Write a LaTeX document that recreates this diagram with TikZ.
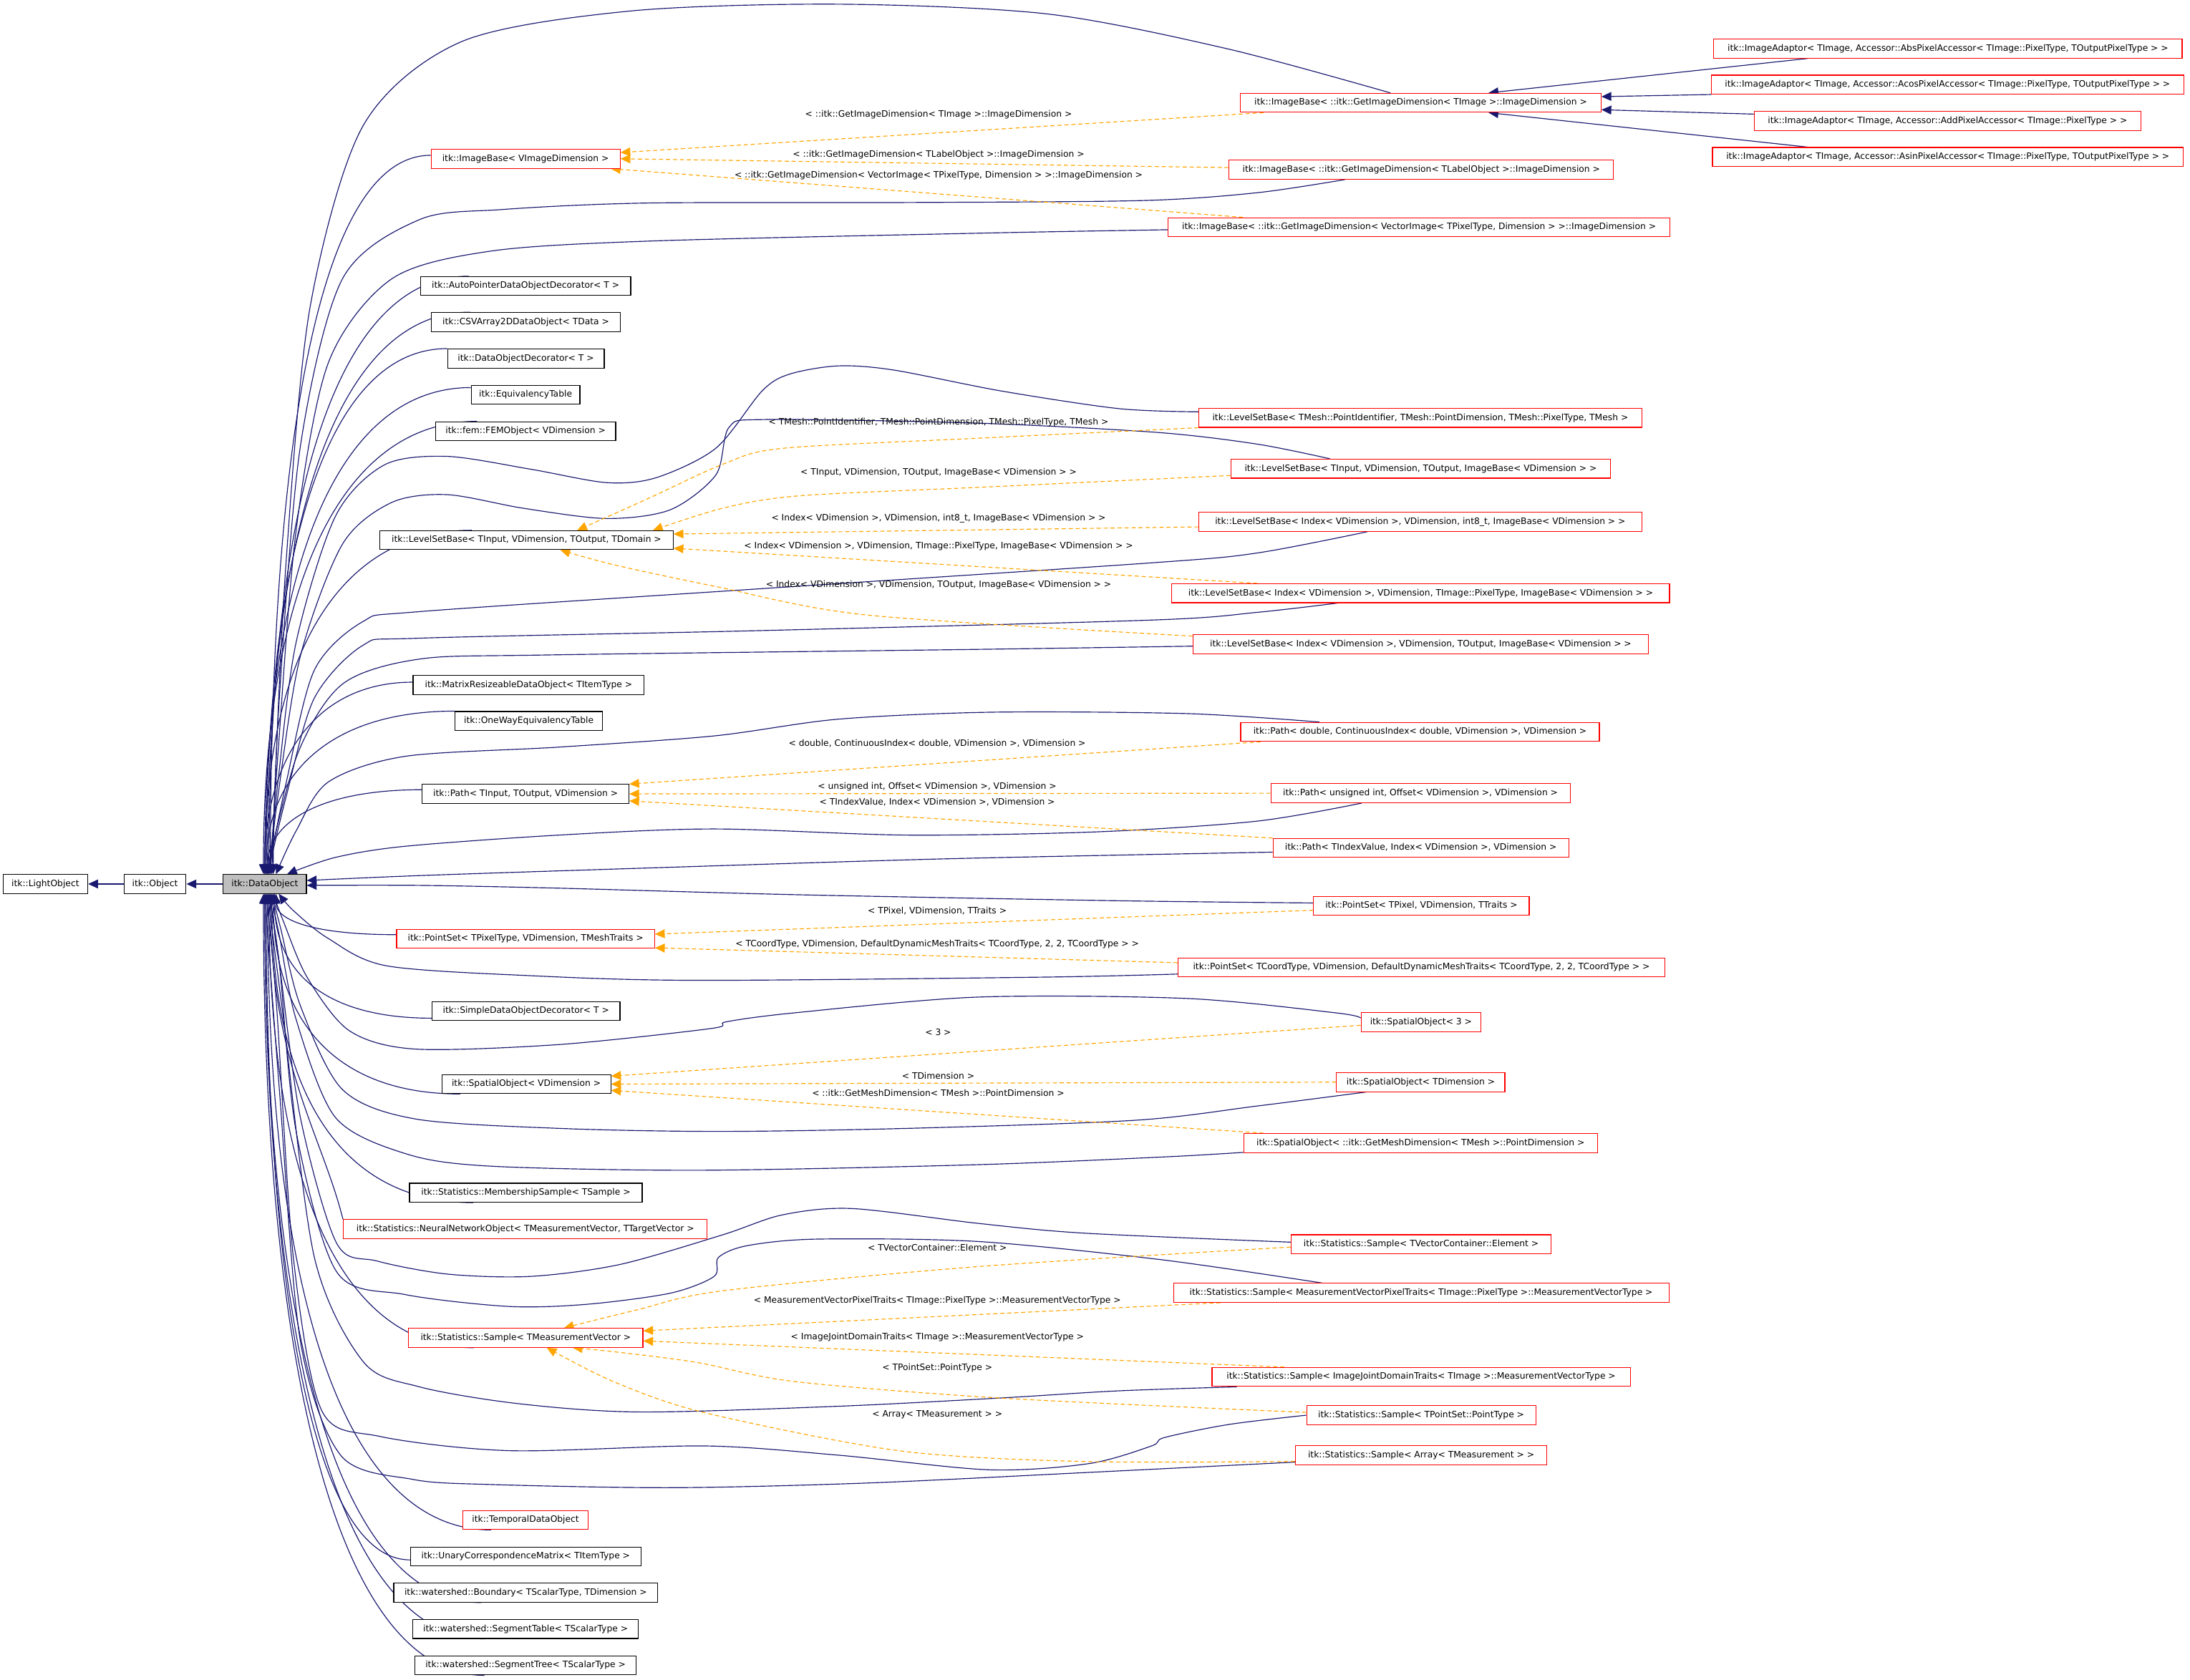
\documentclass[tikz,border=0pt]{standalone}
\usepackage{fontspec}
\setmainfont{DejaVu Sans}
\usetikzlibrary{arrows.meta,backgrounds}
\definecolor{navy}{RGB}{25,25,112}
\definecolor{orng}{RGB}{255,165,0}
\definecolor{redb}{RGB}{255,0,0}
\definecolor{dogray}{RGB}{191,191,191}
\tikzset{
 box/.style={draw=black, line width=0.55pt, rectangle, fill=white, inner xsep=3pt, inner ysep=0pt, minimum height=13.6pt, font=\fontsize{6.3}{7}\selectfont, text height=4.8pt, text depth=1.4pt},
 rbox/.style={box, draw=redb},
 lbl/.style={inner sep=0pt, font=\fontsize{6.3}{7}\selectfont},
 inh/.style={draw=navy, line width=0.6pt, -{Triangle[length=7pt,width=6.3pt]}},
 tpl/.style={draw=orng, line width=0.6pt, dash pattern=on 3pt off 2pt, -{Triangle[length=7pt,width=6.3pt]}},
 sm/.style={smooth, tension=0.5},
}
\begin{document}
\begin{tikzpicture}[x=1pt,y=-1pt]
\useasboundingbox (0,0) rectangle (1568,1203);
% ---- left chain
\node[box, minimum width=60.7pt] (LO) at (32.5,633) {itk::LightObject};
\node[box, minimum width=44.5pt] (OB) at (111,633) {itk::Object};
\node[box, fill=dogray, minimum width=59.6pt] (DO) at (189.6,633) {itk::DataObject};
% ---- column nodes
\node[rbox, minimum width=135.4pt] (IBV) at (376.3,113.7) {itk::ImageBase< VImageDimension >};
\node[box, minimum width=150.6pt] (AP) at (376.3,204.85) {itk::AutoPointerDataObjectDecorator< T >};
\node[box, minimum width=135pt] (CSV) at (376.5,230.6) {itk::CSVArray2DDataObject< TData >};
\node[box, minimum width=112.2pt] (DOD) at (376.5,256.7) {itk::DataObjectDecorator< T >};
\node[box, minimum width=77.8pt] (ET) at (376.3,282.6) {itk::EquivalencyTable};
\node[box, minimum width=129pt] (FEM) at (376.3,308.8) {itk::fem::FEMObject< VDimension >};
\node[box, minimum width=210pt] (LSBT) at (377,386.8) {itk::LevelSetBase< TInput, VDimension, TOutput, TDomain >};
\node[box, minimum width=165.5pt] (MR) at (378.5,490.5) {itk::MatrixResizeableDataObject< TItemType >};
\node[box, minimum width=105.6pt] (OW) at (378.6,516.3) {itk::OneWayEquivalencyTable};
\node[box, minimum width=148pt] (PathT) at (376.3,568.5) {itk::Path< TInput, TOutput, VDimension >};
\node[rbox, minimum width=184.7pt] (PST) at (376.3,672.3) {itk::PointSet< TPixelType, VDimension, TMeshTraits >};
\node[box, minimum width=134.6pt] (SD) at (376.6,724.1) {itk::SimpleDataObjectDecorator< T >};
\node[box, minimum width=121pt] (SOT) at (376.8,776.3) {itk::SpatialObject< VDimension >};
\node[box, minimum width=166.6pt] (MS) at (376.5,854.1) {itk::Statistics::MembershipSample< TSample >};
\node[rbox, minimum width=260.6pt] (NN) at (376.1,880.1) {itk::Statistics::NeuralNetworkObject< TMeasurementVector, TTargetVector >};
\node[rbox, minimum width=167.8pt] (ST) at (376.4,958) {itk::Statistics::Sample< TMeasurementVector >};
\node[rbox, minimum width=89.7pt] (TDO) at (376.3,1088.5) {itk::TemporalDataObject};
\node[box, minimum width=165pt] (UCM) at (376.4,1114.5) {itk::UnaryCorrespondenceMatrix< TItemType >};
\node[box, minimum width=189pt] (WB) at (376.4,1140.5) {itk::watershed::Boundary< TScalarType, TDimension >};
\node[box, minimum width=161.5pt] (WST) at (376.3,1166.5) {itk::watershed::SegmentTable< TScalarType >};
\node[box, minimum width=158.5pt] (WSTr) at (376.3,1192.6) {itk::watershed::SegmentTree< TScalarType >};
% ---- right nodes
\node[rbox, minimum width=258.3pt] (IBT) at (1017.2,73.6) {itk::ImageBase< ::itk::GetImageDimension< TImage >::ImageDimension >};
\node[rbox, minimum width=335.3pt] (IAA) at (1394.7,34.8) {itk::ImageAdaptor< TImage, Accessor::AbsPixelAccessor< TImage::PixelType, TOutputPixelType > >};
\node[rbox, minimum width=338pt] (IAC) at (1394.4,60.6) {itk::ImageAdaptor< TImage, Accessor::AcosPixelAccessor< TImage::PixelType, TOutputPixelType > >};
\node[rbox, minimum width=276.8pt] (IAD) at (1394.4,86.7) {itk::ImageAdaptor< TImage, Accessor::AddPixelAccessor< TImage::PixelType > >};
\node[rbox, minimum width=337pt] (IAS) at (1394.6,112.4) {itk::ImageAdaptor< TImage, Accessor::AsinPixelAccessor< TImage::PixelType, TOutputPixelType > >};
\node[rbox, minimum width=275.2pt] (IBL) at (1017.6,121.5) {itk::ImageBase< ::itk::GetImageDimension< TLabelObject >::ImageDimension >};
\node[rbox, minimum width=359.5pt] (IBVec) at (1016,162.7) {itk::ImageBase< ::itk::GetImageDimension< VectorImage< TPixelType, Dimension > >::ImageDimension >};
\node[rbox, minimum width=317pt] (LSBM) at (1016.9,299.2) {itk::LevelSetBase< TMesh::PointIdentifier, TMesh::PointDimension, TMesh::PixelType, TMesh >};
\node[rbox, minimum width=272pt] (LSBI) at (1017.2,335.6) {itk::LevelSetBase< TInput, VDimension, TOutput, ImageBase< VDimension > >};
\node[rbox, minimum width=317pt] (LSB8) at (1016.9,373.7) {itk::LevelSetBase< Index< VDimension >, VDimension, int8\_t, ImageBase< VDimension > >};
\node[rbox, minimum width=356.3pt] (LSBP) at (1017.2,424.8) {itk::LevelSetBase< Index< VDimension >, VDimension, TImage::PixelType, ImageBase< VDimension > >};
\node[rbox, minimum width=326pt] (LSBO) at (1017.2,461.2) {itk::LevelSetBase< Index< VDimension >, VDimension, TOutput, ImageBase< VDimension > >};
\node[rbox, minimum width=256.8pt] (PathD) at (1016.7,524.1) {itk::Path< double, ContinuousIndex< double, VDimension >, VDimension >};
\node[rbox, minimum width=214.3pt] (PathU) at (1017,568) {itk::Path< unsigned int, Offset< VDimension >, VDimension >};
\node[rbox, minimum width=211.6pt] (PathI) at (1017.3,607.2) {itk::Path< TIndexValue, Index< VDimension >, VDimension >};
\node[rbox, minimum width=154.3pt] (PSP) at (1017.7,648.6) {itk::PointSet< TPixel, VDimension, TTraits >};
\node[rbox, minimum width=348.4pt] (PSC) at (1017.7,692.8) {itk::PointSet< TCoordType, VDimension, DefaultDynamicMeshTraits< TCoordType, 2, 2, TCoordType > >};
\node[rbox, minimum width=85.8pt] (SO3) at (1017.4,732) {itk::SpatialObject< 3 >};
\node[rbox, minimum width=120.5pt] (SOD) at (1017.2,774.9) {itk::SpatialObject< TDimension >};
\node[rbox, minimum width=253.4pt] (SOM) at (1017.1,818.5) {itk::SpatialObject< ::itk::GetMeshDimension< TMesh >::PointDimension >};
\node[rbox, minimum width=186.3pt] (SVC) at (1017.5,891) {itk::Statistics::Sample< TVectorContainer::Element >};
\node[rbox, minimum width=354.7pt] (SMV) at (1017.5,925.8) {itk::Statistics::Sample< MeasurementVectorPixelTraits< TImage::PixelType >::MeasurementVectorType >};
\node[rbox, minimum width=299.4pt] (SIJ) at (1017.5,986) {itk::Statistics::Sample< ImageJointDomainTraits< TImage >::MeasurementVectorType >};
\node[rbox, minimum width=164pt] (STP) at (1017.5,1013.4) {itk::Statistics::Sample< TPointSet::PointType >};
\node[rbox, minimum width=180.1pt] (SAR) at (1017.5,1042) {itk::Statistics::Sample< Array< TMeasurement > >};

\begin{pgfonlayer}{background}
% ---- base chain
\draw[inh] (OB.west) -- (LO.east);
\draw[inh] (DO.west) -- (OB.east);
% ---- column nodes above DataObject
\draw[inh] ([yshift=2.5pt]IBV.west) .. controls +(-80,0) and +(0,-309) .. ([xshift=4pt]DO.north);
\draw[inh] ([xshift=35pt]AP.north west) .. controls +(-99,0) and +(0,-257) .. ([xshift=3pt]DO.north);
\draw[inh] ([xshift=28pt]CSV.north west) .. controls +(-99,0) and +(0,-241) .. ([xshift=2pt]DO.north);
\draw[inh] (DOD.north west) .. controls +(-88,0) and +(0,-226) .. ([xshift=1pt]DO.north);
\draw[inh] ([yshift=-2pt]ET.north west) .. controls +(-100,0) and +(0,-209) .. (DO.north);
\draw[inh] ([xshift=30pt]FEM.north west) .. controls +(-103,0) and +(0,-194) .. ([xshift=-1pt]DO.north);
\draw[inh] ([xshift=66pt]LSBT.north west) .. controls +(-100,0) and +(0,-148) .. (DO.north);
\draw[inh] ([yshift=2pt]MR.west) .. controls +(-70,0) and +(0,-82) .. (DO.north);
\draw[inh] (OW.north west) .. controls +(-91,0) and +(0,-70) .. ([xshift=1pt]DO.north);
\draw[inh] ([yshift=3pt]PathT.west) .. controls +(-75,0) and +(0,-36) .. ([xshift=2pt]DO.north);
% ---- column nodes below DataObject
\draw[inh] ([yshift=3pt]PST.west) .. controls +(-62,0) and +(0,18) .. ([xshift=8pt]DO.south);
\draw[inh] ([yshift=-5pt]SD.west) .. controls +(-80,0) and +(0,53) .. ([xshift=7pt]DO.south);
\draw[inh] ([xshift=13.5pt]SOT.south west) .. controls +(-94,0) and +(0,86) .. ([xshift=6pt]DO.south);
\draw[inh] ([xshift=46pt]MS.south west) .. controls +(-101,0) and +(0,133) .. ([xshift=5pt]DO.south);
\draw[inh] (NN.north west) .. controls +(-15,-60) and +(0,120) .. ([xshift=4pt]DO.south);
\draw[inh] ([xshift=47pt]ST.south west) .. controls +(-101,0) and +(0,195) .. ([xshift=3pt]DO.south);
\draw[inh] ([xshift=20.5pt]TDO.south west) .. controls +(-110,0) and +(0,273) .. ([xshift=2pt]DO.south);
\draw[inh] ([yshift=-2.5pt]UCM.west) .. controls +(-69,0) and +(0,287) .. ([xshift=1pt]DO.south);
\draw[inh] ([xshift=63pt]WB.south west) .. controls +(-105,0) and +(0,304) .. (DO.south);
\draw[inh] ([xshift=52pt]WST.south west) .. controls +(-107,0) and +(0,320) .. (DO.south);
\draw[inh] ([xshift=50pt]WSTr.south west) .. controls +(-106,0) and +(0,336) .. ([xshift=-1pt]DO.south);
% ---- right nodes to DataObject
\draw[inh] plot[sm] coordinates {([xshift=-21.7pt]IBT.north) (879,35) (750,10) (600,3) (450,8) (330,30) (260,90) (222,220) (205,400) (197,560) ([xshift=6pt]DO.north)};
\draw[inh] plot[sm] coordinates {([xshift=-54.6pt]IBL.south) (900,138) (818,143.6) (650,145) (463,145.4) (360,150) (300,157.4) (245,200) (215,320) (200,500) ([xshift=5pt]DO.north)};
\draw[inh] plot[sm] coordinates {([yshift=-1.8pt]IBVec.west) (700,167) (463,172.7) (350,180) (280,200) (235,260) (212,380) (199,540) ([xshift=4pt]DO.north)};
\draw[inh] plot[sm] coordinates {([yshift=4.3pt]LSBM.west) (801,292.6) (717,280) (640,265) (600,262) (565,268) (545.6,280) (512.6,320.9) (470,342) (434.3,345.6) (380,336) (320,326.8) (275,333) (240,370) (212,460) (199,560) ([xshift=3pt]DO.north)};
\draw[inh] plot[sm] coordinates {([xshift=-65pt]LSBI.north) (900,318) (828,309.6) (700,303) (548.5,300.4) (522,306) (512.6,340) (480,365) (434.3,371.3) (375,364) (320,354.2) (280,360) (245,390) (215,470) (199,570) ([xshift=3pt]DO.north)};
\draw[inh] plot[sm] coordinates {([xshift=-38pt]LSB8.south) (900,396) (825,403) (542.6,421.7) (300,438) (260,445) (225,480) (205,560) ([xshift=2pt]DO.north)};
\draw[inh] plot[sm] coordinates {([xshift=-59.6pt]LSBP.south) (900,438.5) (825,444) (542.6,451.6) (300,457) (260,462) (225,500) (205,570) ([xshift=2pt]DO.north)};
\draw[inh] plot[sm] coordinates {([yshift=-1.5pt]LSBO.west) (700,465) (392,469) (300,472) (245,490) (213,540) ([xshift=1pt]DO.north)};
\draw[inh] plot[sm] coordinates {([xshift=-72pt]PathD.north) (850,511) (710,510) (600,515) (511,527) (400,535) (290,541.6) (235,560) (212,595) ([xshift=8pt]DO.north)};
\draw[inh] plot[sm] coordinates {([xshift=-42pt]PathU.south) (900,588) (787,595.6) (650,598) (511,593.6) (400,598) (290,606) (240,614) ([xshift=16pt]DO.north)};
\draw[inh] plot[sm] coordinates {([yshift=-3pt]PathI.west) (676.6,615) (450,622) (300,627) ([yshift=2.5pt]DO.east)};
\draw[inh] plot[sm] coordinates {([yshift=2pt]PSP.west) (800,645) (571,640.7) (400,636) (300,634) ([yshift=-1pt]DO.east)};
\draw[inh] plot[sm] coordinates {([yshift=-4.7pt]PSC.west) (747,699.7) (500,702) (382.7,698.8) (276.8,691.6) (235,672) (210,652) ([xshift=10pt]DO.south)};
\draw[inh] plot[sm] coordinates {([yshift=3pt]SO3.west) (956.5,725.3) (850,715) (700,714) (568.6,725.3) (520,731.7) (509,736.5) (400,748) (297,751.2) (250,738) (220,700) (203,660) ([xshift=6pt]DO.south)};
\draw[inh] plot[sm] coordinates {([xshift=-39pt]SOD.south) (900,792) (812.8,802.2) (650,808) (514.4,810.2) (400,808) (297,801.2) (245,780) (215,720) (201,665) ([xshift=5pt]DO.south)};
\draw[inh] plot[sm] coordinates {([yshift=-6.7pt]SOM.west) (834.5,828.4) (700,834) (500,838) (350,835) (290,826) (240,800) (212,730) (200,670) ([xshift=4pt]DO.south)};
\draw[inh] plot[sm] coordinates {([yshift=1.5pt]SVC.west) (775.6,883) (700,876) (609.7,865.4) (560,870) (517.5,884.2) (443.7,905.5) (380,914) (320.8,912.4) (270,903) (241,890.2) (215,800) (200,690) ([xshift=3pt]DO.south)};
\draw[inh] plot[sm] coordinates {([xshift=-71pt]SMV.north) (831,902) (700,889) (585,887.3) (535,892) (514.4,900.4) (511.3,914) (480,926) (420,934) (363.8,935.5) (290,927) (241,910.7) (212,810) (200,690) ([xshift=3pt]DO.south)};
\draw[inh] plot[sm] coordinates {([xshift=18pt]SIJ.south west) (800,996) (717.6,1001) (600,1007) (457.6,1011.1) (370,1005) (300,993) (260,975) (225,900) (203,730) ([xshift=2pt]DO.south)};
\draw[inh] plot[sm] coordinates {(STP.west) (880,1020) (833.7,1029.4) (824.5,1035.4) (780,1048) (708.4,1052.5) (600,1042) (504.1,1035.4) (364.8,1038.8) (272,1028.6) (230.2,1009.8) (210,900) (198,720) ([xshift=1pt]DO.south)};
\draw[inh] plot[sm] coordinates {([yshift=-5pt]SAR.west) (782.7,1054.2) (620,1062) (480.9,1065.3) (350,1063) (295.2,1059.3) (244,1042.2) (215,960) (200,780) (DO.south)};
% ---- ImageAdaptors
\draw[inh] ([xshift=-100.4pt]IAA.south) -- ([xshift=48.6pt]IBT.north);
\draw[inh] (IAC.south west) -- ([yshift=4.4pt]IBT.east);
\draw[inh] ([yshift=5pt]IAD.west) -- ([yshift=-5pt]IBT.east);
\draw[inh] ([xshift=-100.3pt]IAS.north) -- ([xshift=48.6pt]IBT.south);
% ---- template instantiations
\draw[tpl] ([xshift=17pt]IBT.south west) -- ([yshift=4.5pt]IBV.east);
\draw[tpl] ([yshift=1.5pt]IBL.west) -- (IBV.east);
\draw[tpl] ([xshift=54pt]IBVec.north west) -- ([xshift=-7pt]IBV.south east);
\draw[tpl] plot[sm] coordinates {(LSBM.south west) (700,313.8) (560.7,321) (518.6,332) (464,357) ([xshift=36.3pt]LSBT.north)};
\draw[tpl] plot[sm] coordinates {([yshift=-4.9pt]LSBI.west) (700,349) (572.6,355) (518.6,363.6) ([xshift=90.5pt]LSBT.north)};
\draw[tpl] ([yshift=-3.6pt]LSB8.west) -- ([yshift=4.4pt]LSBT.east);
\draw[tpl] ([xshift=61.5pt]LSBP.north west) -- ([yshift=-5.8pt]LSBT.east);
\draw[tpl] plot[sm] coordinates {([yshift=5.7pt]LSBO.west) (620.7,440.4) (512.6,420) (440.3,404.6) ([xshift=24.2pt]LSBT.south)};
\draw[tpl] ([xshift=14.7pt]PathD.south west) -- (PathT.north east);
\draw[tpl] (PathU.west) -- (PathT.east);
\draw[tpl] (PathI.north west) -- ([yshift=-5pt]PathT.east);
\draw[tpl] ([yshift=-3.2pt]PSP.west) -- ([yshift=3.4pt]PST.east);
\draw[tpl] ([yshift=3.4pt]PSC.west) -- ([yshift=-6.4pt]PST.east);
\draw[tpl] ([yshift=-2.2pt]SO3.west) -- ([yshift=5.7pt]SOT.east);
\draw[tpl] (SOD.west) -- (SOT.east);
\draw[tpl] ([xshift=14.6pt]SOM.north west) -- ([yshift=-4.5pt]SOT.east);
\draw[tpl] plot[sm] coordinates {([yshift=-2pt]SVC.west) (700,907) (517.5,924.3) (456,938) ([xshift=27.4pt]ST.north)};
\draw[tpl] ([xshift=34pt]SMV.south west) -- ([yshift=5pt]ST.east);
\draw[tpl] ([xshift=52pt]SIJ.north west) -- ([yshift=-2.2pt]ST.east);
\draw[tpl] plot[sm] coordinates {([yshift=2pt]STP.west) (717.6,1001.2) (569,989.3) (499,975.6) (440,968) ([xshift=33.6pt]ST.south)};
\draw[tpl] plot[sm] coordinates {([yshift=-4.5pt]SAR.west) (773.4,1046.5) (643.3,1038.8) (504.1,1011.5) (439.1,989.3) ([xshift=15.1pt]ST.south)};
\end{pgfonlayer}
% ---- labels
\node[lbl] (t1) at (672,81.9) {< ::itk::GetImageDimension< TImage >::ImageDimension >};
\node[lbl] (t2) at (672,110.7) {< ::itk::GetImageDimension< TLabelObject >::ImageDimension >};
\node[lbl] (t3) at (672,125.4) {< ::itk::GetImageDimension< VectorImage< TPixelType, Dimension > >::ImageDimension >};
\node[lbl] (t4) at (672,302.6) {< TMesh::PointIdentifier, TMesh::PointDimension, TMesh::PixelType, TMesh >};
\node[lbl] (t5) at (672,338.5) {< TInput, VDimension, TOutput, ImageBase< VDimension > >};
\node[lbl] (t6) at (672,371) {< Index< VDimension >, VDimension, int8\_t, ImageBase< VDimension > >};
\node[lbl] (t7) at (672,391.3) {< Index< VDimension >, VDimension, TImage::PixelType, ImageBase< VDimension > >};
\node[lbl] (t8) at (672,418.6) {< Index< VDimension >, VDimension, TOutput, ImageBase< VDimension > >};
\node[lbl] (t9) at (671,532.2) {< double, ContinuousIndex< double, VDimension >, VDimension >};
\node[lbl] (t10) at (671,563.5) {< unsigned int, Offset< VDimension >, VDimension >};
\node[lbl] (t11) at (671,574.4) {< TIndexValue, Index< VDimension >, VDimension >};
\node[lbl] (t12) at (671,652.3) {< TPixel, VDimension, TTraits >};
\node[lbl] (t13) at (671,676) {< TCoordType, VDimension, DefaultDynamicMeshTraits< TCoordType, 2, 2, TCoordType > >};
\node[lbl] (t14) at (671.7,739.3) {< 3 >};
\node[lbl] (t15) at (671.7,770.6) {< TDimension >};
\node[lbl] (t16) at (671.7,782.5) {< ::itk::GetMeshDimension< TMesh >::PointDimension >};
\node[lbl] (t17) at (671.1,893.6) {< TVectorContainer::Element >};
\node[lbl] (t18) at (671.1,931.2) {< MeasurementVectorPixelTraits< TImage::PixelType >::MeasurementVectorType >};
\node[lbl] (t19) at (671.1,957.7) {< ImageJointDomainTraits< TImage >::MeasurementVectorType >};
\node[lbl] (t20) at (671.1,979.4) {< TPointSet::PointType >};
\node[lbl] (t21) at (671.1,1012.9) {< Array< TMeasurement > >};
\end{tikzpicture}
\end{document}
